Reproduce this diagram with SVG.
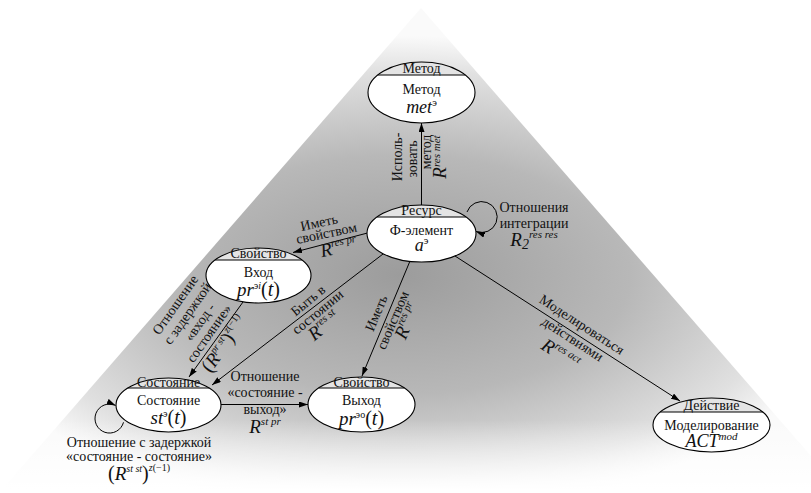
<svg xmlns="http://www.w3.org/2000/svg" width="811" height="493" viewBox="0 0 811 493">
<defs>
<radialGradient id="bg" gradientUnits="userSpaceOnUse" cx="400" cy="275" r="460" gradientTransform="translate(400 275) scale(1 0.52) translate(-400 -275)">
<stop offset="0" stop-color="#9c9c9c"/>
<stop offset="0.5" stop-color="#b8b8b8"/>
<stop offset="0.85" stop-color="#e0e0e0"/>
<stop offset="1" stop-color="#fafafa"/>
</radialGradient>
<linearGradient id="fade" gradientUnits="userSpaceOnUse" x1="0" y1="420" x2="0" y2="490">
<stop offset="0" stop-color="#fff" stop-opacity="0"/>
<stop offset="1" stop-color="#fff" stop-opacity="1"/>
</linearGradient>
<marker id="arr" markerWidth="9" markerHeight="6" refX="9" refY="3" orient="auto" markerUnits="userSpaceOnUse">
<path d="M0,0 L9,3 L0,6 Z" fill="#000"/>
</marker>
<style>
.n { font-family: "Liberation Serif", "DejaVu Serif", serif; font-size: 14px; fill: #111; text-anchor: middle; }
.m { font-style: italic; }
.body { fill: #fff; }
.cap { fill: #e4e4e4; }
.ol { fill: none; stroke: #000; stroke-width: 1.1; }
.dv { stroke: #000; stroke-width: 1.1; }
.e { fill: none; stroke: #000; stroke-width: 1; marker-end: url(#arr); }
</style>
</defs>
<rect width="811" height="493" fill="#fff"/>
<g id="background">
<polygon points="421,8 811,456 811,493 0,493 0,492" fill="url(#bg)"/>
<rect x="0" y="420" width="811" height="73" fill="url(#fade)"/>
</g>
<g id="connectors">
<g id="e-res-met">
<line class="e" x1="421.5" y1="205" x2="421.5" y2="123"/>
<text class="n" transform="translate(402,157) rotate(-90)"><tspan x="0" y="0">Исполь-</tspan><tspan x="-2" y="15">зовать</tspan><tspan x="5" y="29">метод</tspan><tspan x="0" y="44"><tspan class="m" font-size="19">R</tspan><tspan class="m" font-size="11" dy="-6">res met</tspan></tspan></text>
</g>
<g id="e-res-res">
<path class="e" d="M467,212 A15.5,15.5 0 1 1 476,231.5"/>
<text class="n"><tspan x="534" y="212">Отношения</tspan><tspan x="534" y="228">интеграции</tspan><tspan x="534" y="246"><tspan class="m" font-size="19">R</tspan><tspan class="m" font-size="14" dy="3">2</tspan><tspan class="m" font-size="11" dy="-11">res res</tspan></tspan></text>
</g>
<g id="e-res-in">
<line class="e" x1="367.5" y1="233" x2="293" y2="252.5"/>
<text class="n" transform="translate(320,227) rotate(-12)"><tspan x="0" y="0">Иметь</tspan><tspan x="5" y="12">свойством</tspan><tspan x="14" y="30"><tspan class="m" font-size="19">R</tspan><tspan class="m" font-size="11" dy="-8">res pr</tspan></tspan></text>
</g>
<g id="e-res-st">
<line class="e" x1="383" y1="254" x2="212" y2="385"/>
<text class="n" transform="translate(311,304) rotate(-39.5)"><tspan x="0" y="0">Быть в</tspan><tspan x="0" y="15">состоянии</tspan><tspan x="-4" y="31"><tspan class="m" font-size="19">R</tspan><tspan class="m" font-size="11" dy="-8">res st</tspan></tspan></text>
</g>
<g id="e-res-out">
<line class="e" x1="410" y1="261" x2="362" y2="376"/>
<text class="n" transform="translate(380.5,315) rotate(-67)"><tspan x="0" y="0">Иметь</tspan><tspan x="0" y="18">свойством</tspan><tspan x="5" y="33"><tspan class="m" font-size="19">R</tspan><tspan class="m" font-size="11" dy="-8">res pr</tspan></tspan></text>
</g>
<g id="e-res-act">
<line class="e" x1="455" y1="256" x2="680" y2="401"/>
<text class="n" transform="translate(579.4,328.5) rotate(33)"><tspan x="0" y="0">Моделироваться</tspan><tspan x="0" y="17">действиями</tspan><tspan x="-2" y="38"><tspan class="m" font-size="19">R</tspan><tspan class="m" font-size="11" dy="-8">res act</tspan></tspan></text>
</g>
<g id="e-in-st">
<line class="e" x1="243" y1="302" x2="189" y2="377"/>
<text class="n" transform="translate(179,307.5) rotate(-55)"><tspan x="0" y="0">Отношение</tspan><tspan x="0" y="15">с задержкой</tspan><tspan x="0" y="30">«вход -</tspan><tspan x="-4" y="44">состояние»</tspan><tspan x="-4" y="64"><tspan font-size="20">(</tspan><tspan class="m" font-size="19">R</tspan><tspan class="m" font-size="10" dy="-8">pr st</tspan><tspan font-size="20" dy="8">)</tspan><tspan class="m" font-size="10" dy="-9">z</tspan><tspan font-size="10">(−1)</tspan></tspan></text>
</g>
<g id="e-st-out">
<line class="e" x1="221" y1="404.5" x2="308" y2="404.5"/>
<text class="n"><tspan x="265" y="381">Отношение</tspan><tspan x="265" y="397">«состояние -</tspan><tspan x="265" y="414">выход»</tspan><tspan x="265" y="433"><tspan class="m" font-size="19">R</tspan><tspan class="m" font-size="11" dy="-8">st pr</tspan></tspan></text>
</g>
<g id="e-st-st">
<path class="e" d="M123.5,422.3 A14.5,14.5 0 1 1 115.6,405.4"/>
<text class="n"><tspan x="139" y="447">Отношение с задержкой</tspan><tspan x="139" y="461">«состояние - состояние»</tspan><tspan x="139" y="480"><tspan font-size="20">(</tspan><tspan class="m" font-size="19">R</tspan><tspan class="m" font-size="10" dy="-8">st st</tspan><tspan font-size="20" dy="8">)</tspan><tspan class="m" font-size="10" dy="-9">z</tspan><tspan font-size="10">(−1)</tspan></tspan></text>
</g>
</g>
<g id="nodes">
<g id="n-method">
<ellipse class="body" cx="421.5" cy="92.5" rx="53.5" ry="30.5"/>
<path class="cap" d="M377.7,75 A53.5,30.5 0 0 1 465.3,75 Z"/>
<ellipse class="ol" cx="421.5" cy="92.5" rx="53.5" ry="30.5"/>
<line class="dv" x1="377.7" y1="75" x2="465.3" y2="75"/>
<text class="n" x="421.5" y="72.5">Метод</text>
<text class="n" x="421.5" y="94">Метод</text>
<text class="n" x="421.5" y="113"><tspan class="m" font-size="18">met</tspan><tspan font-size="11" dy="-7">э</tspan></text>
</g>
<g id="n-resource">
<ellipse class="body" cx="421.5" cy="233.5" rx="54.5" ry="28.5"/>
<path class="cap" d="M377.1,217 A54.5,28.5 0 0 1 465.9,217 Z"/>
<ellipse class="ol" cx="421.5" cy="233.5" rx="54.5" ry="28.5"/>
<line class="dv" x1="377.1" y1="217" x2="465.9" y2="217"/>
<text class="n" x="421.5" y="215">Ресурс</text>
<text class="n" x="421.5" y="235">Ф-элемент</text>
<text class="n" x="421.5" y="251"><tspan class="m" font-size="18">a</tspan><tspan font-size="11" dy="-7">э</tspan></text>
</g>
<g id="n-input">
<ellipse class="body" cx="258.5" cy="275.5" rx="52.5" ry="27.5"/>
<path class="cap" d="M215.1,260 A52.5,27.5 0 0 1 301.9,260 Z"/>
<ellipse class="ol" cx="258.5" cy="275.5" rx="52.5" ry="27.5"/>
<line class="dv" x1="215.1" y1="260" x2="301.9" y2="260"/>
<text class="n" x="258.5" y="258">Свойство</text>
<text class="n" x="258.5" y="277">Вход</text>
<text class="n" x="258.5" y="296"><tspan class="m" font-size="19">pr</tspan><tspan font-size="10" dy="-7">э</tspan><tspan class="m" font-size="10">i</tspan><tspan font-size="20" dy="7">(</tspan><tspan class="m" font-size="20">t</tspan><tspan font-size="20">)</tspan></text>
</g>
<g id="n-state">
<ellipse class="body" cx="168.5" cy="405" rx="52.5" ry="27"/>
<path class="cap" d="M127.7,388 A52.5,27 0 0 1 209.3,388 Z"/>
<ellipse class="ol" cx="168.5" cy="405" rx="52.5" ry="27"/>
<line class="dv" x1="127.7" y1="388" x2="209.3" y2="388"/>
<text class="n" x="168.5" y="386.5">Состояние</text>
<text class="n" x="168.5" y="405">Состояние</text>
<text class="n" x="168.5" y="424"><tspan class="m" font-size="19">st</tspan><tspan font-size="10" dy="-7">э</tspan><tspan font-size="20" dy="7">(</tspan><tspan class="m" font-size="20">t</tspan><tspan font-size="20">)</tspan></text>
</g>
<g id="n-output">
<ellipse class="body" cx="361.5" cy="404.5" rx="53.5" ry="27.5"/>
<path class="cap" d="M318.7,388 A53.5,27.5 0 0 1 404.3,388 Z"/>
<ellipse class="ol" cx="361.5" cy="404.5" rx="53.5" ry="27.5"/>
<line class="dv" x1="318.7" y1="388" x2="404.3" y2="388"/>
<text class="n" x="361.5" y="386.5">Свойство</text>
<text class="n" x="361.5" y="405">Выход</text>
<text class="n" x="361.5" y="425"><tspan class="m" font-size="19">pr</tspan><tspan font-size="10" dy="-7">эо</tspan><tspan font-size="20" dy="7">(</tspan><tspan class="m" font-size="20">t</tspan><tspan font-size="20">)</tspan></text>
</g>
<g id="n-action">
<ellipse class="body" cx="711.5" cy="425" rx="58.5" ry="27"/>
<path class="cap" d="M660.2,412 A58.5,27 0 0 1 762.8,412 Z"/>
<ellipse class="ol" cx="711.5" cy="425" rx="58.5" ry="27"/>
<line class="dv" x1="660.2" y1="412" x2="762.8" y2="412"/>
<text class="n" x="711.5" y="409.5">Действие</text>
<text class="n" x="711.5" y="430">Моделирование</text>
<text class="n" x="711.5" y="447"><tspan class="m" font-size="18">ACT</tspan><tspan class="m" font-size="11" dy="-7">mod</tspan></text>
</g>
</g>
</svg>
